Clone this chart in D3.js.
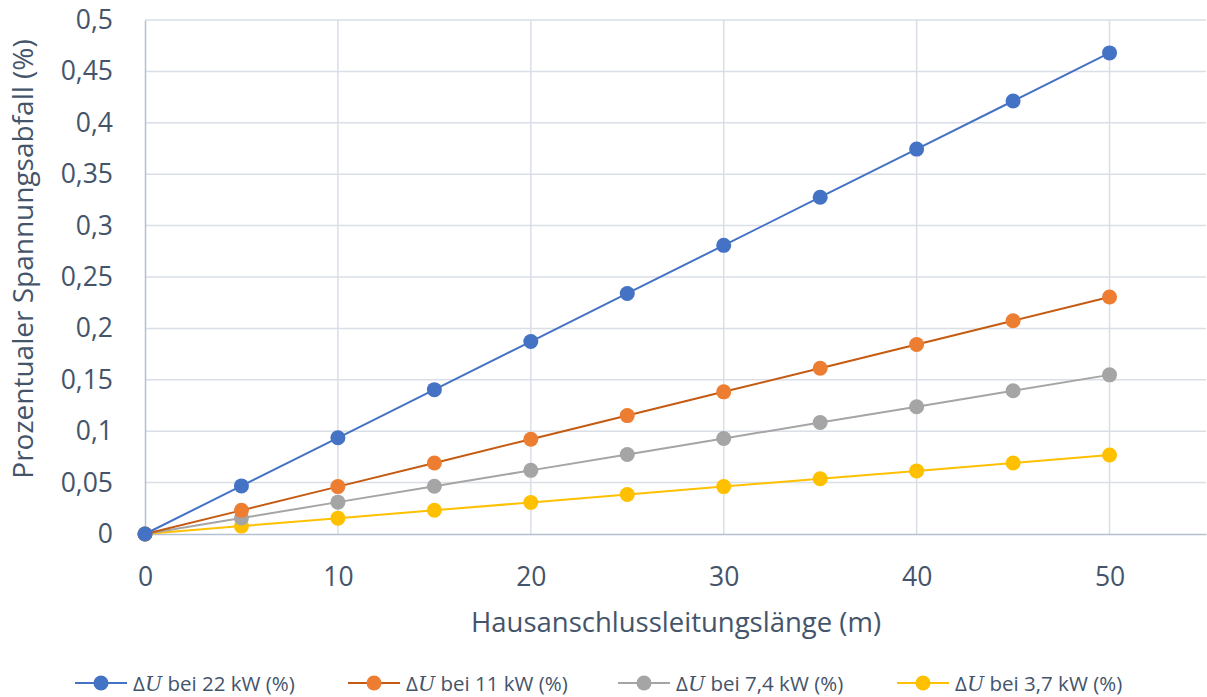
<!DOCTYPE html>
<html><head><meta charset="utf-8">
<script src="https://cdn.jsdelivr.net/npm/d3@7"></script>
<style>body{margin:0;background:#fff}svg{display:block}</style>
</head><body><svg id="c" width="1207" height="697"></svg>
<script>
const xValues = [0,5,10,15,20,25,30,35,40,45,50];
const s22 = [0,0.0468,0.0936,0.1404,0.1872,0.2340,0.2808,0.3276,0.3744,0.4212,0.4680];
const s11 = [0,0.0230,0.0461,0.0691,0.0922,0.1152,0.1383,0.1613,0.1844,0.2074,0.2305];
const s74 = [0,0.0155,0.0310,0.0464,0.0619,0.0774,0.0929,0.1084,0.1238,0.1393,0.1548];
const s37 = [0,0.0077,0.0154,0.0231,0.0307,0.0384,0.0461,0.0538,0.0614,0.0691,0.0768];
const seriesNames = ["bei 22 kW (%)","bei 11 kW (%)","bei 7,4 kW (%)","bei 3,7 kW (%)"];
const markerColors = ["#4472C4","#ED7D31","#A5A5A5","#FFC000"];
const lineColors = ["#4472C4","#C55A11","#A5A5A5","#FFC000"];
const xTicks = [0,10,20,30,40,50];
const yTicks = [0,0.05,0.1,0.15,0.2,0.25,0.3,0.35,0.4,0.45,0.5];
const xTitle = "Hausanschlussleitungslänge (m)";
const yTitle = "Prozentualer Spannungsabfall (%)";

const seriesValues = [s22,s11,s74,s37];
const svg = d3.select("#c");
const font = "'Open Sans', 'Noto Sans', sans-serif";
const txt = "#44546A";
const L=145,R=1206,T=20,B=534;
const x = d3.scaleLinear().domain([0,55]).range([L,R]);
const y = d3.scaleLinear().domain([0,0.5]).range([B,T]);
const fmt = v => String(+v.toFixed(2)).replace(".",",");

// grid
svg.append("g").selectAll("line").data(yTicks.filter(d=>d>0)).join("line")
 .attr("x1",L).attr("x2",R).attr("y1",d=>y(d)).attr("y2",d=>y(d))
 .attr("stroke","#D9DEE7").attr("stroke-width",1.5);
svg.append("g").selectAll("line").data(xTicks.filter(d=>d>0)).join("line")
 .attr("x1",d=>x(d)).attr("x2",d=>x(d)).attr("y1",T).attr("y2",B)
 .attr("stroke","#D9DEE7").attr("stroke-width",1.5);

// axes
const ya = svg.append("g").attr("transform",`translate(${L},0)`)
 .call(d3.axisLeft(y).tickValues(yTicks).tickFormat(fmt).tickSize(0).tickPadding(32));
ya.select(".domain").attr("stroke","#B4BFD0").attr("stroke-width",1.5);
ya.selectAll("text").attr("font-family",font).attr("font-size",26.5).attr("fill",txt);
const xa = svg.append("g").attr("transform",`translate(0,${B})`)
 .call(d3.axisBottom(x).tickValues(xTicks).tickFormat(d=>d).tickSize(0).tickPadding(33));
xa.select(".domain").attr("stroke","#B4BFD0").attr("stroke-width",1.5);
xa.selectAll("text").attr("font-family",font).attr("font-size",26.5).attr("fill",txt);

// titles
svg.append("text").attr("x",676).attr("y",632).attr("text-anchor","middle")
 .attr("font-family",font).attr("font-size",27.5).attr("fill",txt).text(xTitle);
svg.append("text").attr("transform",`translate(33,259) rotate(-90)`).attr("text-anchor","middle")
 .attr("font-family",font).attr("font-size",28).attr("fill",txt).text(yTitle);

// series
const line = d3.line().x((d,i)=>x(xValues[i])).y(d=>y(d));
for (let k=seriesValues.length-1;k>=0;k--){
  const g = svg.append("g");
  g.append("path").datum(seriesValues[k]).attr("d",line).attr("fill","none")
   .attr("stroke",lineColors[k]).attr("stroke-width",2);
  g.selectAll("circle").data(seriesValues[k]).join("circle")
   .attr("cx",(d,i)=>x(xValues[i])).attr("cy",d=>y(d)).attr("r",7.5)
   .attr("fill",markerColors[k]);
}

// legend
const legX = [75,348,618,897];
const lg = svg.append("g");
seriesNames.forEach((n,k)=>{
  const g = lg.append("g").attr("transform",`translate(${legX[k]},683)`);
  g.append("line").attr("x1",0).attr("x2",52).attr("stroke",lineColors[k]).attr("stroke-width",2);
  g.append("circle").attr("cx",26).attr("r",7.5).attr("fill",markerColors[k]);
  const t = g.append("text").attr("x",58).attr("y",7.5).attr("font-family",font).attr("font-size",20.5).attr("fill",txt);
  t.append("tspan").text("Δ");
  t.append("tspan").attr("font-family","'DejaVu Serif', 'Liberation Serif', serif").attr("font-style","italic").text("U");
  t.append("tspan").text(" "+n);
});
</script></body></html>
